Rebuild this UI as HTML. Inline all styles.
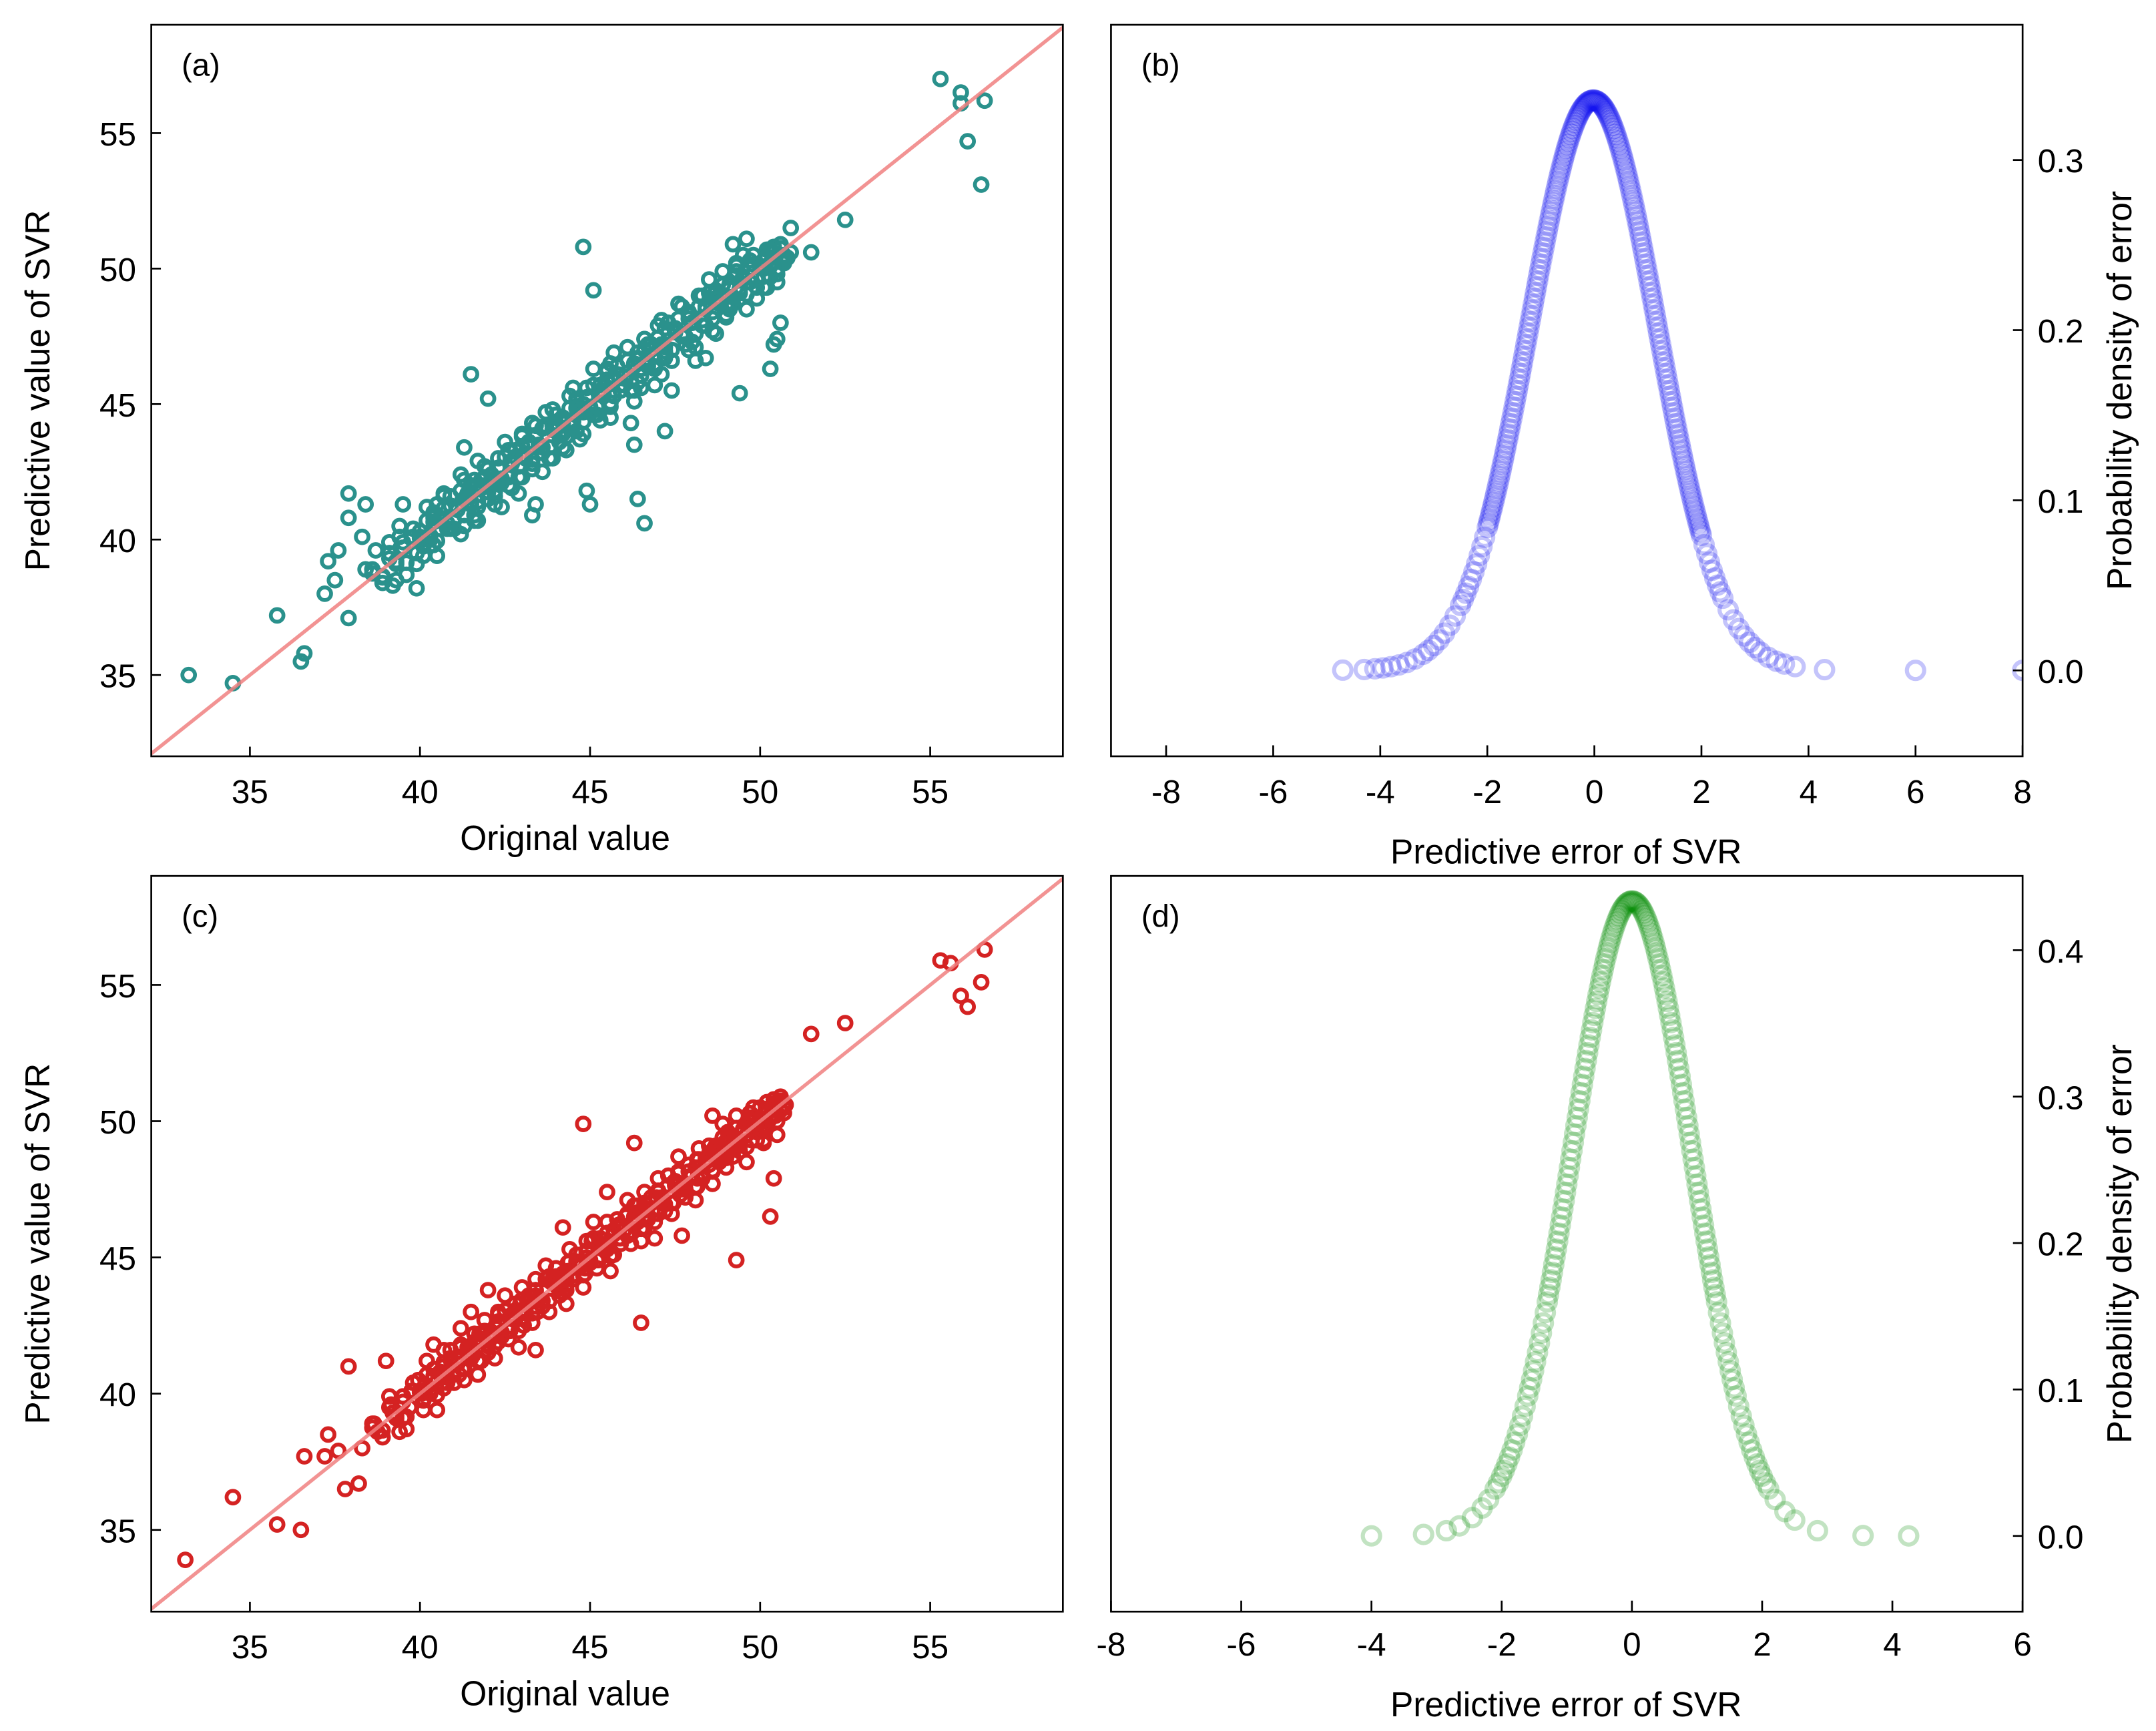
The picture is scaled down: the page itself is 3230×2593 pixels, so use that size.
<!DOCTYPE html>
<html><head><meta charset="utf-8"><style>
html,body{margin:0;padding:0;background:#fff;}
svg{display:block;font-family:"Liberation Sans",Arial,sans-serif;}
</style></head><body>
<svg id="fig" width="3230" height="2593" viewBox="0 0 1568 1258.8" xmlns="http://www.w3.org/2000/svg"></svg>
<script>
// ---------- data ----------
const aOrigCloud = [38.6,38.9,39.1,39.3,39.5,39.6,39.8,40.0,40.1,40.2,40.3,40.4,40.5,40.6,40.7,40.8,40.9,41.0,41.1,41.2,41.3,41.4,41.5,41.6,41.7,41.8,41.9,42.0,42.1,42.2,42.3,42.4,42.5,42.6,42.7,42.8,42.9,43.0,43.1,43.2,43.3,43.4,43.5,43.6,43.7,43.8,43.9,44.0,44.1,44.2,44.3,44.4,44.5,44.6,44.7,44.8,44.9,45.0,45.1,45.2,45.3,45.4,45.5,45.6,45.7,45.8,45.9,46.0,46.1,46.2,46.3,46.4,46.5,46.6,46.7,46.8,46.9,47.0,47.1,47.2,47.3,47.4,47.5,47.6,47.7,47.8,47.9,48.0,48.1,48.2,48.3,48.4,48.5,48.6,48.7,48.8,48.9,49.0,49.1,49.2,49.3,49.4,49.5,49.6,49.7,49.8,49.9,50.0,50.1,50.2,50.3,50.4,50.5,50.6,50.7];
const aPredCloud = [38.9,38.4,39.9,39.1,39.9,38.7,40.4,40.1,39.4,41.2,40.0,40.9,39.4,40.8,41.6,40.4,41.6,40.4,41.1,42.4,40.5,41.7,41.3,42.2,40.7,42.2,42.7,41.5,42.2,41.3,43.0,42.1,43.6,42.0,42.9,43.3,41.7,43.9,43.0,43.6,42.6,44.2,43.5,43.2,44.7,43.0,44.2,44.6,43.6,44.4,43.3,45.3,44.2,45.1,44.8,43.9,45.6,44.8,46.3,44.6,45.7,45.3,46.3,44.5,46.0,46.4,45.5,46.0,47.1,45.5,46.5,46.9,45.6,47.4,46.4,47.2,45.7,47.9,47.2,46.7,48.0,46.6,47.8,48.7,47.5,47.2,48.4,48.0,47.1,49.0,47.9,48.6,49.1,47.7,49.1,48.7,49.9,48.3,49.4,48.7,50.2,49.1,49.7,48.5,50.3,50.5,49.3,50.1,49.3,50.7,50.1,50.8,49.5,50.9,50.3];
const aOrigOut = [33.2,34.5,35.8,36.5,36.6,37.2,37.3,37.5,37.6,37.9,37.9,37.9,38.4,38.3,39.2,39.3,39.9,41.5,42.0,44.8,45.1,44.9,45.0,46.4,46.6,47.2,47.4,49.4,50.3,50.4,55.3,55.9,55.9,56.1,56.5,56.6,52.5,51.5,50.9,49.6,49.2,48.1,48.4,50.6,50.5,43.4,43.3,46.3,46.2,39.5,41.3];
const aPredOut = [35.0,34.7,37.2,35.5,35.8,38.0,39.2,38.5,39.6,41.7,37.1,40.8,41.3,40.1,38.3,38.5,38.2,46.1,45.2,50.8,49.2,41.8,41.3,41.5,40.6,44.0,45.5,45.4,46.3,47.2,57.0,56.5,56.1,54.7,53.1,56.2,51.8,50.6,51.5,51.1,50.9,46.6,46.7,48.0,47.4,41.3,40.9,43.5,44.3,41.3,43.4];

const cOrigCloud = [38.6,38.9,39.1,39.3,39.5,39.6,39.8,40.0,40.1,40.2,40.3,40.4,40.5,40.6,40.7,40.8,40.9,41.0,41.1,41.2,41.3,41.4,41.5,41.6,41.7,41.8,41.9,42.0,42.1,42.2,42.3,42.4,42.5,42.6,42.7,42.8,42.9,43.0,43.1,43.2,43.3,43.4,43.5,43.6,43.7,43.8,43.9,44.0,44.1,44.2,44.3,44.4,44.5,44.6,44.7,44.8,44.9,45.0,45.1,45.2,45.3,45.4,45.5,45.6,45.7,45.8,45.9,46.0,46.1,46.2,46.3,46.4,46.5,46.6,46.7,46.8,46.9,47.0,47.1,47.2,47.3,47.4,47.5,47.6,47.7,47.8,47.9,48.0,48.1,48.2,48.3,48.4,48.5,48.6,48.7,48.8,48.9,49.0,49.1,49.2,49.3,49.4,49.5,49.6,49.7,49.8,49.9,50.0,50.1,50.2,50.3,50.4,50.5,50.6,50.7];
const cPredCloud = [38.75,38.65,39.5,39.2,39.7,39.15,40.1,40.05,39.75,40.7,40.15,40.65,39.95,40.7,41.15,40.6,41.25,40.7,41.1,41.8,40.9,41.55,41.4,41.9,41.2,42.0,42.3,41.75,42.15,41.75,42.65,42.25,43.05,42.3,42.8,43.05,42.3,43.45,43.05,43.4,42.95,43.8,43.5,43.4,44.2,43.4,44.05,44.3,43.85,44.3,43.8,44.85,44.35,44.85,44.75,44.35,45.25,44.9,45.7,44.9,45.5,45.35,45.9,45.05,45.85,46.1,45.7,46.0,46.6,45.85,46.4,46.65,46.05,47.0,46.55,47.0,46.3,47.45,47.15,46.95,47.65,47.0,47.65,48.15,47.6,47.5,48.15,48.0,47.6,48.6,48.1,48.5,48.8,48.15,48.9,48.75,49.4,48.65,49.25,48.95,49.75,49.25,49.6,49.05,50.0,50.15,49.6,50.05,49.7,50.45,50.2,50.6,50.0,50.75,50.5];
const cOrigOut = [33.1,34.5,35.8,36.5,36.6,37.2,37.3,37.6,37.8,37.9,38.2,38.3,44.8,46.5,49.3,50.3,52.5,51.5,55.3,55.6,55.9,56.1,56.5,56.6,39.0,39.4,40.4,41.5,42.0,44.2,46.3,47.7,48.6,50.1,50.4,45.5,43.4];
const cPredOut = [33.9,36.2,35.2,35.0,37.7,37.7,38.5,37.9,36.5,41.0,36.7,38.0,49.9,42.6,44.9,46.5,53.6,53.2,55.9,55.8,54.6,54.2,55.1,56.3,41.2,38.6,41.8,43.0,43.8,46.1,49.2,45.8,50.2,49.2,47.9,47.4,41.6];

const bErrors = [-4.7,-4.3,-4.1,-3.95,-3.8,-3.65,-3.5,-3.35,-3.2,-3.1,-3.0,-2.9,-2.8,-2.7,-2.6,-2.5,-2.45,-2.4,-2.35,-2.3,-2.25,-2.2,-2.15,-2.1,-2.05,-2.0,-1.98,-1.96,-1.94,-1.92,-1.9,-1.88,-1.86,-1.84,-1.82,-1.8,-1.78,-1.76,-1.74,-1.72,-1.7,-1.68,-1.66,-1.64,-1.62,-1.6,-1.58,-1.56,-1.54,-1.52,-1.5,-1.48,-1.46,-1.44,-1.42,-1.4,-1.38,-1.36,-1.34,-1.32,-1.3,-1.28,-1.26,-1.24,-1.22,-1.2,-1.18,-1.16,-1.14,-1.12,-1.1,-1.08,-1.06,-1.04,-1.02,-1.0,-0.98,-0.96,-0.94,-0.92,-0.9,-0.88,-0.86,-0.84,-0.82,-0.8,-0.78,-0.76,-0.74,-0.72,-0.7,-0.68,-0.66,-0.64,-0.62,-0.6,-0.58,-0.56,-0.54,-0.52,-0.5,-0.48,-0.46,-0.44,-0.42,-0.4,-0.38,-0.36,-0.34,-0.32,-0.3,-0.28,-0.26,-0.24,-0.22,-0.2,-0.18,-0.16,-0.14,-0.12,-0.1,-0.08,-0.06,-0.04,-0.02,0.0,0.02,0.04,0.06,0.08,0.1,0.12,0.14,0.16,0.18,0.2,0.22,0.24,0.26,0.28,0.3,0.32,0.34,0.36,0.38,0.4,0.42,0.44,0.46,0.48,0.5,0.52,0.54,0.56,0.58,0.6,0.62,0.64,0.66,0.68,0.7,0.72,0.74,0.76,0.78,0.8,0.82,0.84,0.86,0.88,0.9,0.92,0.94,0.96,0.98,1.0,1.02,1.04,1.06,1.08,1.1,1.12,1.14,1.16,1.18,1.2,1.22,1.24,1.26,1.28,1.3,1.32,1.34,1.36,1.38,1.4,1.42,1.44,1.46,1.48,1.5,1.52,1.54,1.56,1.58,1.6,1.62,1.64,1.66,1.68,1.7,1.72,1.74,1.76,1.78,1.8,1.82,1.84,1.86,1.88,1.9,1.92,1.94,1.96,1.98,2.0,2.05,2.1,2.15,2.2,2.25,2.3,2.35,2.4,2.5,2.6,2.7,2.8,2.9,3.0,3.1,3.25,3.4,3.55,3.75,4.3,6.0,8.0];
const bMean = -0.02, bSd = 1.19;
const dErrors = [-4.0,-3.2,-2.85,-2.65,-2.45,-2.3,-2.2,-2.1,-2.05,-2.0,-1.96,-1.92,-1.88,-1.84,-1.8,-1.76,-1.72,-1.68,-1.64,-1.6,-1.57,-1.54,-1.51,-1.48,-1.45,-1.42,-1.39,-1.36,-1.33,-1.3,-1.28,-1.26,-1.24,-1.22,-1.2,-1.18,-1.16,-1.14,-1.12,-1.1,-1.08,-1.06,-1.04,-1.02,-1.0,-0.98,-0.96,-0.94,-0.92,-0.9,-0.88,-0.86,-0.84,-0.82,-0.8,-0.78,-0.76,-0.74,-0.72,-0.7,-0.68,-0.66,-0.64,-0.62,-0.6,-0.58,-0.56,-0.54,-0.52,-0.5,-0.48,-0.46,-0.44,-0.42,-0.4,-0.38,-0.36,-0.34,-0.32,-0.3,-0.28,-0.26,-0.24,-0.22,-0.2,-0.18,-0.16,-0.14,-0.12,-0.1,-0.08,-0.06,-0.04,-0.02,0.0,0.02,0.04,0.06,0.08,0.1,0.12,0.14,0.16,0.18,0.2,0.22,0.24,0.26,0.28,0.3,0.32,0.34,0.36,0.38,0.4,0.42,0.44,0.46,0.48,0.5,0.52,0.54,0.56,0.58,0.6,0.62,0.64,0.66,0.68,0.7,0.72,0.74,0.76,0.78,0.8,0.82,0.84,0.86,0.88,0.9,0.92,0.94,0.96,0.98,1.0,1.02,1.04,1.06,1.08,1.1,1.12,1.14,1.16,1.18,1.2,1.22,1.24,1.26,1.28,1.3,1.33,1.36,1.39,1.42,1.45,1.48,1.51,1.54,1.57,1.6,1.64,1.68,1.72,1.76,1.8,1.84,1.88,1.92,1.96,2.0,2.05,2.1,2.2,2.35,2.5,2.85,3.55,4.25];
const dMean = 0.0, dSd = 0.92;

const scatTicks = [35,40,45,50,55];
const bXTicks = [-8,-6,-4,-2,0,2,4,6,8];
const dXTicks = [-8,-6,-4,-2,0,2,4,6];
const bYTicks = [0.0,0.1,0.2,0.3];
const dYTicks = [0.0,0.1,0.2,0.3,0.4];

// ---------- drawing ----------
const NS = "http://www.w3.org/2000/svg";
const svg = document.getElementById('fig');
function mk(tag, attrs, parent){
  const e = document.createElementNS(NS, tag);
  for (const k in attrs) e.setAttribute(k, attrs[k]);
  (parent||svg).appendChild(e);
  return e;
}
function scale(d0,d1,r0,r1){ return v => r0 + (v-d0)/(d1-d0)*(r1-r0); }
function txt(s, x, y, anchor, size, parent, rot){
  const t = mk('text', {x:x, y:y, 'text-anchor':anchor, 'font-size':size, fill:'#000'}, parent);
  if (rot) t.setAttribute('transform', 'rotate(' + rot + ' ' + x + ' ' + y + ')');
  t.textContent = s;
  return t;
}

function scatterPanel(id, box, color, sets, letter){
  const g = mk('g', {});
  
  
  const xs = scale(32.1, 58.9, box.l, box.r);
  const ys = scale(32.0, 59.0, box.b, box.t);
  const clip = mk('clipPath', {id:'clip-'+id}, g);
  mk('rect', {x:box.l, y:box.t, width:box.r-box.l, height:box.b-box.t}, clip);
  const pts = mk('g', {'clip-path':'url(#clip-'+id+')'}, g);
  
  
  sets.forEach(([X,Y]) => {
    for (let i=0;i<X.length;i++){
      const c = mk('circle', {cx:xs(X[i]), cy:ys(Y[i]), r:4.6, fill:'none', stroke:color, 'stroke-width':2.8}, pts);
      
      
    }
  });
  const ln = mk('line', {x1:xs(32.1), y1:ys(32.1), x2:xs(58.9), y2:ys(58.9), stroke:'#f08080', 'stroke-width':2.6, 'stroke-opacity':0.85}, pts);
  
  
  const fr = mk('rect', {x:box.l, y:box.t, width:box.r-box.l, height:box.b-box.t, fill:'none', stroke:'#000', 'stroke-width':1.3}, g);
  
  
  scatTicks.forEach(v => {
    mk('line', {x1:xs(v), y1:box.b, x2:xs(v), y2:box.b-7, stroke:'#000', 'stroke-width':1.3}, g);
    const tx = txt(String(v), xs(v), box.b+34, 'middle', 24, g);
    
    
    mk('line', {x1:box.l, y1:ys(v), x2:box.l+7, y2:ys(v), stroke:'#000', 'stroke-width':1.3}, g);
    const ty = txt(String(v), box.l-11, ys(v)+9, 'end', 24, g);
    
    
  });
  const xt = txt('Original value', 411, box.b+68, 'middle', 25, g);
  
  
  const yt = txt('Predictive value of SVR', 36, (box.t+box.b)/2, 'middle', 25, g, -90);
  
  
  const pl = txt(letter, box.l+22, box.t+37, 'start', 23, g);
  
  
}

function densityPanel(id, box, rgb, errs, mu, sd, xmin, xmax, ymin, ymax, xticks, yticks, letter, xlabY, titleY){
  const g = mk('g', {});
  
  
  const xs = scale(xmin, xmax, box.l, box.r);
  const ys = scale(ymin, ymax, box.b, box.t);
  const clip = mk('clipPath', {id:'clip-'+id}, g);
  mk('rect', {x:box.l, y:box.t, width:box.r-box.l, height:box.b-box.t}, clip);
  const pts = mk('g', {'clip-path':'url(#clip-'+id+')'}, g);
  
  
  errs.forEach(e => {
    const d = Math.exp(-0.5*Math.pow((e-mu)/sd,2))/(sd*Math.sqrt(2*Math.PI));
    const c = mk('circle', {cx:xs(e), cy:ys(d), r:6.3, fill:'none', stroke:rgb, 'stroke-opacity':0.25, 'stroke-width':3}, pts);
    
    
  });
  const fr = mk('rect', {x:box.l, y:box.t, width:box.r-box.l, height:box.b-box.t, fill:'none', stroke:'#000', 'stroke-width':1.3}, g);
  
  
  xticks.forEach(v => {
    mk('line', {x1:xs(v), y1:box.b, x2:xs(v), y2:box.b-8, stroke:'#000', 'stroke-width':1.3}, g);
    const t = txt(String(v), xs(v), xlabY, 'middle', 24, g);
    
    
  });
  yticks.forEach(v => {
    mk('line', {x1:box.r, y1:ys(v), x2:box.r-7, y2:ys(v), stroke:'#000', 'stroke-width':1.3}, g);
    const t = txt(v.toFixed(1), box.r+11, ys(v)+9, 'start', 24, g);
    
    
  });
  const xt = txt('Predictive error of SVR', 1139, titleY, 'middle', 25, g);
  
  
  const yt = txt('Probability density of error', 1550, (box.t+box.b)/2, 'middle', 25, g, -90);
  
  
  const pl = txt(letter, box.l+22, box.t+37, 'start', 23, g);
  
  
}

scatterPanel('a', {l:110,t:18,r:773,b:550}, '#2a918c',
  [[aOrigCloud,aPredCloud],[aPredCloud,aOrigCloud],[cOrigCloud,cPredCloud],[aOrigOut,aPredOut]], '(a)');
scatterPanel('c', {l:110,t:637,r:773,b:1172}, '#d42222',
  [[cOrigCloud,cPredCloud],[cPredCloud,cOrigCloud],[aOrigCloud,aPredCloud],[cOrigOut,cPredOut]], '(c)');
densityPanel('b', {l:808,t:18,r:1471,b:550}, '#1515ee', bErrors, bMean, bSd, -9.03, 8.0, -0.0505, 0.3795, bXTicks, bYTicks, '(b)', 584, 628);
densityPanel('d', {l:808,t:637,r:1471,b:1172}, '#0a8f0a', dErrors, dMean, dSd, -8.0, 6.0, -0.0517, 0.4507, dXTicks, dYTicks, '(d)', 1204, 1248);
</script>
</body></html>
